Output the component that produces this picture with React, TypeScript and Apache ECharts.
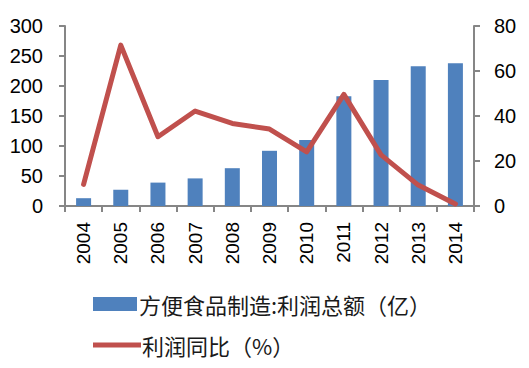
import React, { useEffect, useRef } from "react";
import * as echarts from "echarts";

const years = ["2004", "2005", "2006", "2007", "2008", "2009", "2010", "2011", "2012", "2013", "2014"];
const profitTotal = [13, 27, 39, 46, 63, 92, 110, 183, 210, 233, 238];
const profitYoY = [9.6, 71.5, 30.8, 42.2, 36.7, 34.2, 24.1, 49.6, 22.7, 9.3, 0.9];
const leftTicks = [0, 50, 100, 150, 200, 250, 300];
const rightTicks = [0, 20, 40, 60, 80];

const barName = "方便食品制造:利润总额（亿）";
const lineName = "利润同比（%）";

export default function App() {
  const ref = useRef<HTMLDivElement>(null);
  useEffect(() => {
    if (!ref.current) return;
    const chart = echarts.init(ref.current, null, { renderer: "svg" });
    const font = "'Liberation Sans', 'Noto Sans CJK SC', sans-serif";
    const cjk = "'Noto Sans CJK SC', sans-serif";
    const axisColor = "#868686";
    chart.setOption({
      animation: false,
      backgroundColor: "#ffffff",
      textStyle: { fontFamily: font },
      grid: { left: 65, right: 55, top: 26, bottom: 162, containLabel: false },
      legend: [
        {
          data: [barName],
          left: 88,
          top: 288,
          icon: "rect",
          itemWidth: 44,
          itemHeight: 14,
          itemGap: 4,
          textStyle: { fontSize: 22, color: "#1a1a1a", fontFamily: cjk, padding: [0, 0, 0, -3] },
        },
        {
          data: [lineName],
          left: 88,
          top: 329,
          icon: "rect",
          itemWidth: 48,
          itemHeight: 5,
          textStyle: { fontSize: 22, color: "#1a1a1a", fontFamily: cjk, padding: [0, 0, 0, -4] },
        },
      ],
      xAxis: {
        type: "category",
        data: years,
        boundaryGap: true,
        axisLine: { lineStyle: { color: axisColor, width: 2 } },
        axisTick: { show: true, length: 6, lineStyle: { color: axisColor, width: 2 } },
        axisLabel: { rotate: 90, fontSize: 19, color: "#000", margin: 16, fontFamily: font },
      },
      yAxis: [
        {
          type: "value",
          min: leftTicks[0],
          max: leftTicks[leftTicks.length - 1],
          interval: 50,
          axisLine: { show: true, lineStyle: { color: axisColor, width: 2 } },
          axisTick: { show: true, length: 6, lineStyle: { color: axisColor, width: 2 } },
          splitLine: { show: false },
          axisLabel: { fontSize: 20, color: "#000", margin: 22, fontFamily: font },
        },
        {
          type: "value",
          min: rightTicks[0],
          max: rightTicks[rightTicks.length - 1],
          interval: 20,
          position: "right",
          axisLine: { show: true, lineStyle: { color: axisColor, width: 2 } },
          axisTick: { show: true, length: 6, lineStyle: { color: axisColor, width: 2 } },
          splitLine: { show: false },
          axisLabel: { fontSize: 20, color: "#000", margin: 20, fontFamily: font },
        },
      ],
      series: [
        {
          name: barName,
          type: "bar",
          data: profitTotal,
          barWidth: 15,
          itemStyle: { color: "#4F81BD" },
          yAxisIndex: 0,
        },
        {
          name: lineName,
          type: "line",
          data: profitYoY,
          yAxisIndex: 1,
          showSymbol: false,
          symbol: "none",
          lineStyle: { color: "#C0504D", width: 5, cap: "round", join: "round" },
          itemStyle: { color: "#C0504D" },
        },
      ],
    });
    return () => chart.dispose();
  }, []);
  return (
    <div
      ref={ref}
      style={{ position: "fixed", left: 0, top: 0, width: 529, height: 368, background: "#fff" }}
    />
  );
}
